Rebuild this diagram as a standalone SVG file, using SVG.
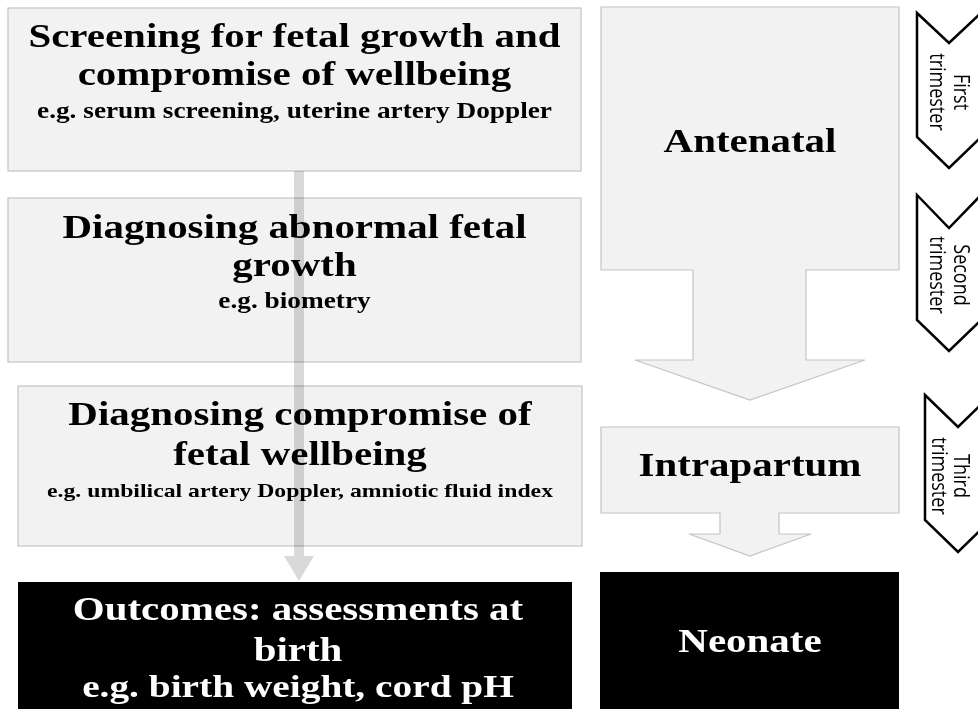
<svg xmlns="http://www.w3.org/2000/svg" width="978" height="709" viewBox="0 0 978 709">
<style>
.box{fill:#f2f2f2;stroke:#c4c4c4;stroke-width:1.2}
.dark{fill:#000}
.t{font-family:"Liberation Serif","Times New Roman",serif;font-weight:bold;font-size:33.3px;text-anchor:middle;fill:#000}
.s{font-family:"Liberation Serif","Times New Roman",serif;font-weight:bold;font-size:22.2px;text-anchor:middle;fill:#000}
.w{fill:#fff}
.chev{fill:#fff;stroke:#000;stroke-width:2.5;stroke-linejoin:miter}
.c{font-family:"Open Sans","DejaVu Sans",sans-serif;font-size:18px;text-anchor:middle;fill:#000}
.flow{fill:#d9d9d9;mix-blend-mode:multiply}
</style>
<rect width="978" height="709" fill="#fff"/>
<g id="screening">
<rect class="box" x="8" y="8" width="573" height="163"/>
<text class="t" transform="translate(294.5,47) scale(1.23,1)">Screening for fetal growth and</text>
<text class="t" transform="translate(294.5,85) scale(1.23,1)">compromise of wellbeing</text>
<text class="s" transform="translate(294.5,118) scale(1.23,1)">e.g. serum screening, uterine artery Doppler</text>
</g>
<g id="diag-growth">
<rect class="box" x="8" y="198" width="573" height="164"/>
<text class="t" transform="translate(294.5,238) scale(1.23,1)">Diagnosing abnormal fetal</text>
<text class="t" transform="translate(294.5,276) scale(1.23,1)">growth</text>
<text class="s" transform="translate(294.5,308) scale(1.23,1)">e.g. biometry</text>
</g>
<g id="diag-wellbeing">
<rect class="box" x="18" y="386" width="564" height="160"/>
<text class="t" transform="translate(300,425) scale(1.23,1)">Diagnosing compromise of</text>
<text class="t" transform="translate(300,465) scale(1.23,1)">fetal wellbeing</text>
<text class="s" style="font-size:19.3px" transform="translate(300,497) scale(1.23,1)">e.g. umbilical artery Doppler, amniotic fluid index</text>
</g>
<g id="outcomes">
<rect class="dark" x="18" y="582" width="554" height="130"/>
<text class="t w" transform="translate(298,620) scale(1.23,1)">Outcomes: assessments at</text>
<text class="t w" transform="translate(298,661) scale(1.23,1)">birth</text>
<text class="t w" style="font-size:32px" transform="translate(298,697) scale(1.23,1)">e.g. birth weight, cord pH</text>
</g>
<g id="antenatal">
<polygon class="box" points="601,7 899,7 899,270 806,270 806,360 865,360 750,400 635,360 693,360 693,270 601,270"/>
<text class="t" transform="translate(750,152) scale(1.23,1)">Antenatal</text>
</g>
<g id="intrapartum">
<polygon class="box" points="601,427 899,427 899,513 779,513 779,534 811,534 750,556 689,534 720,534 720,513 601,513"/>
<text class="t" transform="translate(750,476) scale(1.23,1)">Intrapartum</text>
</g>
<g id="neonate">
<rect class="dark" x="600" y="572" width="299" height="140"/>
<text class="t w" transform="translate(750,652) scale(1.23,1)">Neonate</text>
</g>
<g id="first-trimester">
<polygon class="chev" points="917,13 949,43 981,13 981,137 949,168 917,137"/>
<text class="c" transform="translate(954,92) scale(1.23,1) rotate(90)">First</text>
<text class="c" transform="translate(930,92) scale(1.23,1) rotate(90)">trimester</text>
</g>
<g id="second-trimester">
<polygon class="chev" points="917,195 949,228 981,195 981,320 949,351 917,320"/>
<text class="c" transform="translate(954,275) scale(1.23,1) rotate(90)">Second</text>
<text class="c" transform="translate(930,275) scale(1.23,1) rotate(90)">trimester</text>
</g>
<g id="third-trimester">
<polygon class="chev" points="925,395 958,427 991,395 991,520 958,552 925,520"/>
<text class="c" transform="translate(954,476) scale(1.23,1) rotate(90)">Third</text>
<text class="c" transform="translate(932,476) scale(1.23,1) rotate(90)">trimester</text>
</g>
<g id="connectors">
<polygon class="flow" points="294,171 304,171 304,556 314,556 299,581 284,556 294,556"/>
</g>
</svg>
